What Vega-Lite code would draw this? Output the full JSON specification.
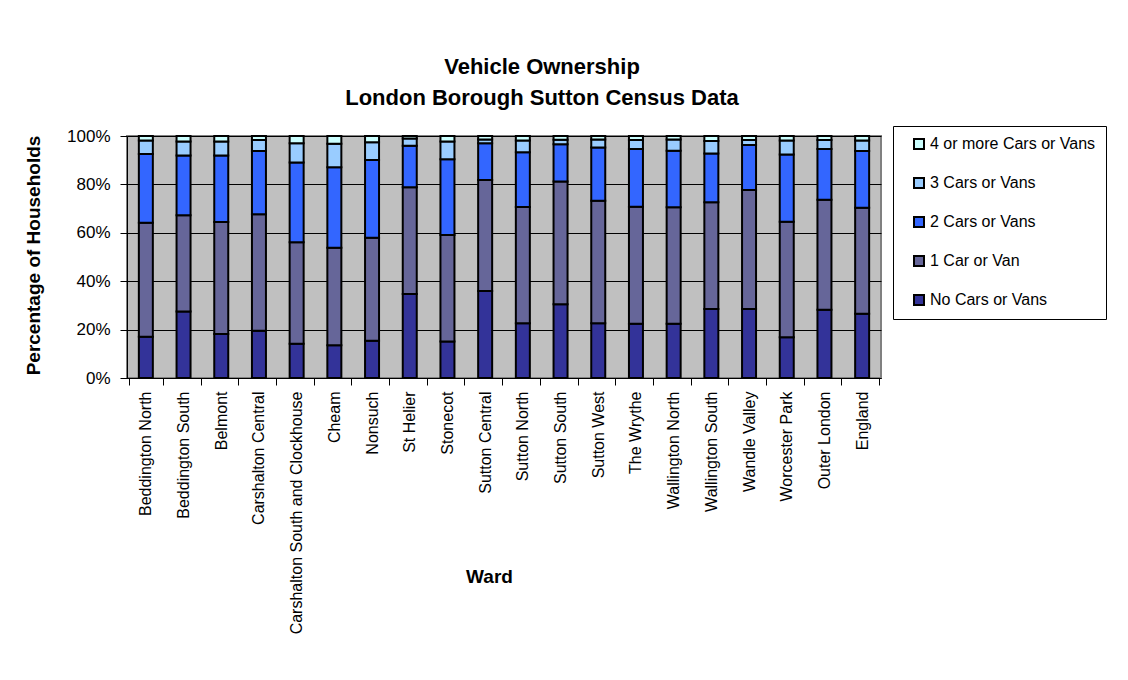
{
  "$schema": "https://vega.github.io/schema/vega-lite/v6.json",
  "width": 754,
  "height": 242,
  "autosize": {"type": "none"},
  "padding": {"left": 127, "top": 136, "right": 247, "bottom": 302},
  "background": "white",
  "title": {
    "text": ["Vehicle Ownership", "London Borough Sutton Census Data"],
    "anchor": "middle",
    "frame": "group",
    "dx": 38,
    "offset": 16,
    "fontSize": 22,
    "fontWeight": "bold",
    "font": "Liberation Sans",
    "color": "black",
    "lineHeight": 31
  },
  "data": {
    "values": [
      {"ward": "Beddington North", "cars": "No Cars or Vans", "n": 0, "pct": 17.0},
      {"ward": "Beddington North", "cars": "1 Car or Van", "n": 1, "pct": 47.2},
      {"ward": "Beddington North", "cars": "2 Cars or Vans", "n": 2, "pct": 28.4},
      {"ward": "Beddington North", "cars": "3 Cars or Vans", "n": 3, "pct": 5.5},
      {"ward": "Beddington North", "cars": "4 or more Cars or Vans", "n": 4, "pct": 1.9},
      {"ward": "Beddington South", "cars": "No Cars or Vans", "n": 0, "pct": 27.5},
      {"ward": "Beddington South", "cars": "1 Car or Van", "n": 1, "pct": 39.8},
      {"ward": "Beddington South", "cars": "2 Cars or Vans", "n": 2, "pct": 24.6},
      {"ward": "Beddington South", "cars": "3 Cars or Vans", "n": 3, "pct": 5.8},
      {"ward": "Beddington South", "cars": "4 or more Cars or Vans", "n": 4, "pct": 2.3},
      {"ward": "Belmont", "cars": "No Cars or Vans", "n": 0, "pct": 18.2},
      {"ward": "Belmont", "cars": "1 Car or Van", "n": 1, "pct": 46.3},
      {"ward": "Belmont", "cars": "2 Cars or Vans", "n": 2, "pct": 27.4},
      {"ward": "Belmont", "cars": "3 Cars or Vans", "n": 3, "pct": 5.8},
      {"ward": "Belmont", "cars": "4 or more Cars or Vans", "n": 4, "pct": 2.3},
      {"ward": "Carshalton Central", "cars": "No Cars or Vans", "n": 0, "pct": 19.5},
      {"ward": "Carshalton Central", "cars": "1 Car or Van", "n": 1, "pct": 48.2},
      {"ward": "Carshalton Central", "cars": "2 Cars or Vans", "n": 2, "pct": 26.1},
      {"ward": "Carshalton Central", "cars": "3 Cars or Vans", "n": 3, "pct": 4.5},
      {"ward": "Carshalton Central", "cars": "4 or more Cars or Vans", "n": 4, "pct": 1.7},
      {"ward": "Carshalton South and Clockhouse", "cars": "No Cars or Vans", "n": 0, "pct": 14.2},
      {"ward": "Carshalton South and Clockhouse", "cars": "1 Car or Van", "n": 1, "pct": 41.9},
      {"ward": "Carshalton South and Clockhouse", "cars": "2 Cars or Vans", "n": 2, "pct": 32.9},
      {"ward": "Carshalton South and Clockhouse", "cars": "3 Cars or Vans", "n": 3, "pct": 8.0},
      {"ward": "Carshalton South and Clockhouse", "cars": "4 or more Cars or Vans", "n": 4, "pct": 3.0},
      {"ward": "Cheam", "cars": "No Cars or Vans", "n": 0, "pct": 13.5},
      {"ward": "Cheam", "cars": "1 Car or Van", "n": 1, "pct": 40.3},
      {"ward": "Cheam", "cars": "2 Cars or Vans", "n": 2, "pct": 33.3},
      {"ward": "Cheam", "cars": "3 Cars or Vans", "n": 3, "pct": 9.7},
      {"ward": "Cheam", "cars": "4 or more Cars or Vans", "n": 4, "pct": 3.2},
      {"ward": "Nonsuch", "cars": "No Cars or Vans", "n": 0, "pct": 15.4},
      {"ward": "Nonsuch", "cars": "1 Car or Van", "n": 1, "pct": 42.6},
      {"ward": "Nonsuch", "cars": "2 Cars or Vans", "n": 2, "pct": 32.1},
      {"ward": "Nonsuch", "cars": "3 Cars or Vans", "n": 3, "pct": 7.3},
      {"ward": "Nonsuch", "cars": "4 or more Cars or Vans", "n": 4, "pct": 2.6},
      {"ward": "St Helier", "cars": "No Cars or Vans", "n": 0, "pct": 34.7},
      {"ward": "St Helier", "cars": "1 Car or Van", "n": 1, "pct": 44.1},
      {"ward": "St Helier", "cars": "2 Cars or Vans", "n": 2, "pct": 17.2},
      {"ward": "St Helier", "cars": "3 Cars or Vans", "n": 3, "pct": 3.0},
      {"ward": "St Helier", "cars": "4 or more Cars or Vans", "n": 4, "pct": 1.0},
      {"ward": "Stonecot", "cars": "No Cars or Vans", "n": 0, "pct": 15.1},
      {"ward": "Stonecot", "cars": "1 Car or Van", "n": 1, "pct": 44.0},
      {"ward": "Stonecot", "cars": "2 Cars or Vans", "n": 2, "pct": 31.3},
      {"ward": "Stonecot", "cars": "3 Cars or Vans", "n": 3, "pct": 7.3},
      {"ward": "Stonecot", "cars": "4 or more Cars or Vans", "n": 4, "pct": 2.3},
      {"ward": "Sutton Central", "cars": "No Cars or Vans", "n": 0, "pct": 36.0},
      {"ward": "Sutton Central", "cars": "1 Car or Van", "n": 1, "pct": 45.8},
      {"ward": "Sutton Central", "cars": "2 Cars or Vans", "n": 2, "pct": 15.2},
      {"ward": "Sutton Central", "cars": "3 Cars or Vans", "n": 3, "pct": 1.6},
      {"ward": "Sutton Central", "cars": "4 or more Cars or Vans", "n": 4, "pct": 1.4},
      {"ward": "Sutton North", "cars": "No Cars or Vans", "n": 0, "pct": 22.6},
      {"ward": "Sutton North", "cars": "1 Car or Van", "n": 1, "pct": 48.1},
      {"ward": "Sutton North", "cars": "2 Cars or Vans", "n": 2, "pct": 22.6},
      {"ward": "Sutton North", "cars": "3 Cars or Vans", "n": 3, "pct": 4.8},
      {"ward": "Sutton North", "cars": "4 or more Cars or Vans", "n": 4, "pct": 1.9},
      {"ward": "Sutton South", "cars": "No Cars or Vans", "n": 0, "pct": 30.5},
      {"ward": "Sutton South", "cars": "1 Car or Van", "n": 1, "pct": 50.7},
      {"ward": "Sutton South", "cars": "2 Cars or Vans", "n": 2, "pct": 15.4},
      {"ward": "Sutton South", "cars": "3 Cars or Vans", "n": 3, "pct": 1.8},
      {"ward": "Sutton South", "cars": "4 or more Cars or Vans", "n": 4, "pct": 1.6},
      {"ward": "Sutton West", "cars": "No Cars or Vans", "n": 0, "pct": 22.6},
      {"ward": "Sutton West", "cars": "1 Car or Van", "n": 1, "pct": 50.6},
      {"ward": "Sutton West", "cars": "2 Cars or Vans", "n": 2, "pct": 22.0},
      {"ward": "Sutton West", "cars": "3 Cars or Vans", "n": 3, "pct": 3.4},
      {"ward": "Sutton West", "cars": "4 or more Cars or Vans", "n": 4, "pct": 1.4},
      {"ward": "The Wrythe", "cars": "No Cars or Vans", "n": 0, "pct": 22.4},
      {"ward": "The Wrythe", "cars": "1 Car or Van", "n": 1, "pct": 48.4},
      {"ward": "The Wrythe", "cars": "2 Cars or Vans", "n": 2, "pct": 23.8},
      {"ward": "The Wrythe", "cars": "3 Cars or Vans", "n": 3, "pct": 3.7},
      {"ward": "The Wrythe", "cars": "4 or more Cars or Vans", "n": 4, "pct": 1.7},
      {"ward": "Wallington North", "cars": "No Cars or Vans", "n": 0, "pct": 22.4},
      {"ward": "Wallington North", "cars": "1 Car or Van", "n": 1, "pct": 48.2},
      {"ward": "Wallington North", "cars": "2 Cars or Vans", "n": 2, "pct": 23.3},
      {"ward": "Wallington North", "cars": "3 Cars or Vans", "n": 3, "pct": 4.7},
      {"ward": "Wallington North", "cars": "4 or more Cars or Vans", "n": 4, "pct": 1.4},
      {"ward": "Wallington South", "cars": "No Cars or Vans", "n": 0, "pct": 28.5},
      {"ward": "Wallington South", "cars": "1 Car or Van", "n": 1, "pct": 44.1},
      {"ward": "Wallington South", "cars": "2 Cars or Vans", "n": 2, "pct": 20.2},
      {"ward": "Wallington South", "cars": "3 Cars or Vans", "n": 3, "pct": 5.1},
      {"ward": "Wallington South", "cars": "4 or more Cars or Vans", "n": 4, "pct": 2.1},
      {"ward": "Wandle Valley", "cars": "No Cars or Vans", "n": 0, "pct": 28.5},
      {"ward": "Wandle Valley", "cars": "1 Car or Van", "n": 1, "pct": 49.2},
      {"ward": "Wandle Valley", "cars": "2 Cars or Vans", "n": 2, "pct": 18.6},
      {"ward": "Wandle Valley", "cars": "3 Cars or Vans", "n": 3, "pct": 2.0},
      {"ward": "Wandle Valley", "cars": "4 or more Cars or Vans", "n": 4, "pct": 1.7},
      {"ward": "Worcester Park", "cars": "No Cars or Vans", "n": 0, "pct": 16.8},
      {"ward": "Worcester Park", "cars": "1 Car or Van", "n": 1, "pct": 47.8},
      {"ward": "Worcester Park", "cars": "2 Cars or Vans", "n": 2, "pct": 27.8},
      {"ward": "Worcester Park", "cars": "3 Cars or Vans", "n": 3, "pct": 5.7},
      {"ward": "Worcester Park", "cars": "4 or more Cars or Vans", "n": 4, "pct": 1.9},
      {"ward": "Outer London", "cars": "No Cars or Vans", "n": 0, "pct": 28.2},
      {"ward": "Outer London", "cars": "1 Car or Van", "n": 1, "pct": 45.5},
      {"ward": "Outer London", "cars": "2 Cars or Vans", "n": 2, "pct": 20.9},
      {"ward": "Outer London", "cars": "3 Cars or Vans", "n": 3, "pct": 3.7},
      {"ward": "Outer London", "cars": "4 or more Cars or Vans", "n": 4, "pct": 1.7},
      {"ward": "England", "cars": "No Cars or Vans", "n": 0, "pct": 26.5},
      {"ward": "England", "cars": "1 Car or Van", "n": 1, "pct": 43.9},
      {"ward": "England", "cars": "2 Cars or Vans", "n": 2, "pct": 23.4},
      {"ward": "England", "cars": "3 Cars or Vans", "n": 3, "pct": 4.3},
      {"ward": "England", "cars": "4 or more Cars or Vans", "n": 4, "pct": 1.9}
    ]
  },
  "mark": {"type": "bar", "size": 14, "stroke": "black", "strokeWidth": 2},
  "encoding": {
    "x": {
      "field": "ward",
      "type": "nominal",
      "sort": null,
      "axis": {
        "title": "Ward",
        "titleFontSize": 19,
        "titleFontWeight": "bold",
        "titleX": 362,
        "titleY": 198,
        "titleBaseline": "middle",
        "titleAlign": "center",
        "labelAngle": -90,
        "labelFontSize": 16,
        "labelPadding": 6,
        "labelLimit": 400,
        "tickBand": "extent",
        "tickSize": 7,
        "tickColor": "black",
        "domainColor": "black",
        "domainWidth": 1,
        "grid": false
      }
    },
    "y": {
      "field": "pct",
      "type": "quantitative",
      "stack": "normalize",
      "scale": {"domain": [0, 1], "nice": false},
      "axis": {
        "title": "Percentage of Households",
        "titleFontSize": 19,
        "titleFontWeight": "bold",
        "titleX": -94,
        "titleY": 119,
        "titleAngle": -90,
        "titleBaseline": "middle",
        "titleAlign": "center",
        "values": [0, 0.2, 0.4, 0.6, 0.8, 1],
        "format": ".0%",
        "labelFontSize": 17,
        "labelPadding": 10,
        "tickSize": 7,
        "tickColor": "black",
        "domainColor": "black",
        "grid": true,
        "gridColor": "black",
        "gridWidth": 1,
        "gridOpacity": 1
      }
    },
    "color": {
      "field": "cars",
      "type": "nominal",
      "scale": {
        "domain": ["4 or more Cars or Vans", "3 Cars or Vans", "2 Cars or Vans", "1 Car or Van", "No Cars or Vans"],
        "range": ["#CCFFFF", "#99CCFF", "#3366FF", "#666699", "#333399"]
      },
      "legend": {
        "title": null,
        "orient": "none",
        "direction": "vertical",
        "legendX": 766,
        "legendY": -10,
        "padding": 10,
        "symbolOffset": 8,
        "rowPadding": 21,
        "labelFontSize": 16,
        "labelOffset": 3,
        "labelColor": "black",
        "labelLimit": 400,
        "symbolType": "square",
        "symbolSize": 100,
        "symbolStrokeColor": "black",
        "symbolStrokeWidth": 2,
        "symbolOpacity": 1,
        "strokeColor": "black",
        "fillColor": "white"
      }
    },
    "order": {"field": "n", "type": "quantitative", "sort": "ascending"}
  },
  "config": {
    "font": "Liberation Sans",
    "view": {"fill": "#C0C0C0", "stroke": "#808080", "strokeWidth": 2},
    "axis": {"labelColor": "black", "titleColor": "black"}
  }
}
